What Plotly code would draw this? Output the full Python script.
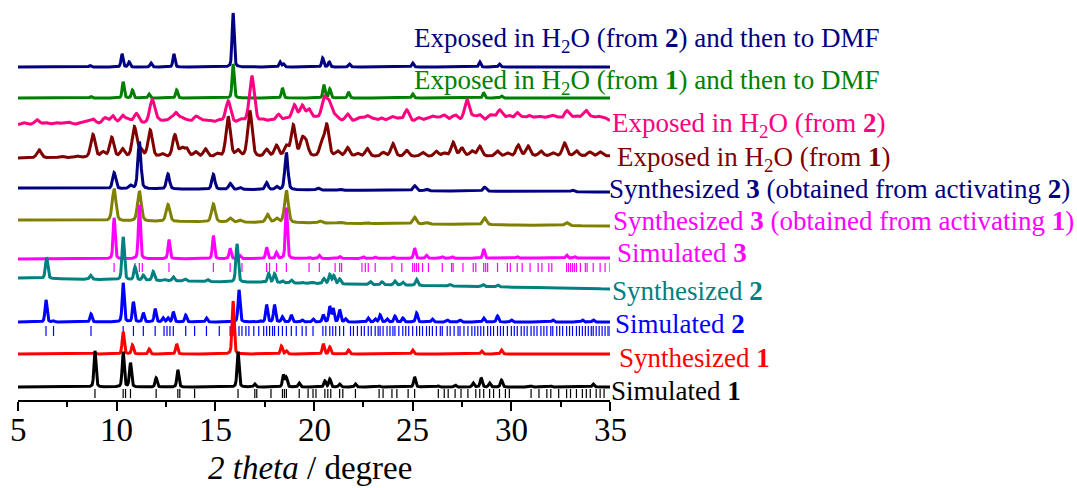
import numpy as np
import plotly.graph_objects as go

# 2-theta grid (degrees)
two_theta = np.linspace(5, 35, 3001)

# ---- peak tables: (2theta, relative intensity) ----
exp_h2o_2_dmf = [(8.65, 1.5), (10.27, 13), (10.63, 5), (11.74, 4), (12.9, 13), (15.9, 54),
                 (18.28, 5), (18.45, 3), (20.44, 9), (20.77, 5), (21.8, 3), (25.0, 4),
                 (28.4, 5), (29.4, 3)]
exp_h2o_1_dmf = [(8.7, 1.5), (10.33, 16), (10.8, 8), (11.64, 4), (13.04, 8), (15.9, 34),
                 (18.4, 10), (20.5, 13), (20.8, 9), (21.75, 6), (25.0, 4), (28.6, 5), (29.5, 2)]
exp_h2o_2 = [(5.3, 2), (5.96, 5), (6.4, 2), (6.9, 2), (7.3, 1.5), (7.6, 2), (8.2, 1.5),
             (8.5, 2), (8.8, 5), (9.4, 6), (9.8, 8), (10.3, 8), (10.6, 4), (11.0, 10),
             (11.8, 24), (12.1, 3), (12.4, 2), (12.7, 4), (13.0, 10), (13.3, 5), (13.6, 3),
             (14.0, 6), (14.2, 3), (14.5, 3), (14.8, 2), (15.2, 3), (15.65, 22), (16.3, 3),
             (16.85, 47), (17.4, 3), (17.8, 3), (18.2, 8), (18.6, 4), (19.0, 17), (19.4, 16),
             (19.75, 12), (20.1, 4), (20.5, 22), (20.75, 18), (21.0, 5), (21.2, 3), (21.7, 8),
             (22.2, 3), (22.4, 3), (22.7, 6), (23.0, 3), (23.4, 4), (23.8, 3), (24.0, 4),
             (24.3, 3), (24.7, 12), (25.3, 4), (25.7, 3), (26.0, 5), (26.3, 4), (26.6, 6),
             (27.0, 3), (27.2, 5), (27.75, 22), (28.1, 4), (28.4, 6), (28.9, 5), (29.1, 3),
             (29.4, 10), (29.6, 3), (29.9, 5), (30.3, 8), (30.6, 3), (30.9, 5), (31.2, 3),
             (31.5, 4), (31.8, 3), (32.1, 5), (32.4, 3), (32.8, 9), (33.0, 3), (33.3, 4),
             (33.6, 3), (33.8, 9), (34.1, 3), (34.4, 4), (34.7, 3)]
exp_h2o_1 = [(6.07, 8), (7.2, 1.5), (8.0, 1.5), (8.8, 23), (9.3, 5), (9.75, 20), (10.3, 8),
             (10.9, 30), (11.2, 8), (11.7, 27), (12.3, 3), (12.95, 22), (13.3, 8), (13.55, 8),
             (14.0, 5), (14.5, 8), (15.1, 3), (15.65, 40), (16.15, 6), (16.75, 46), (17.6, 7),
             (18.1, 11), (18.6, 10), (18.95, 31), (19.4, 16), (19.6, 13), (20.4, 13),
             (20.65, 31), (21.2, 5), (21.7, 9), (22.2, 3), (22.7, 8), (23.5, 4), (24.0, 13),
             (24.7, 6), (25.5, 4), (26.2, 5), (26.6, 3), (27.05, 14), (27.5, 8), (28.0, 5),
             (28.4, 10), (29.3, 5), (29.8, 3), (30.35, 11), (30.85, 10), (31.5, 5), (32.1, 3),
             (32.7, 13), (33.3, 5), (33.97, 4), (34.5, 4)]
synth3_from2 = [(9.87, 16), (10.7, 3), (11.15, 47), (12.6, 15), (14.9, 15), (15.75, 6),
                (16.25, 2), (17.6, 7), (18.1, 3), (18.6, 37), (20.2, 2), (21.3, 1), (25.1, 5),
                (25.7, 1.5), (28.65, 4), (33.1, 1.5)]
synth3_from1 = [(9.87, 32), (11.15, 30), (12.6, 17), (14.9, 18), (15.75, 4), (16.25, 2),
                (17.65, 8), (18.1, 4), (18.6, 32), (20.3, 2), (21.3, 1), (22.7, 1), (25.1, 7),
                (25.7, 1.5), (28.65, 7), (32.8, 3)]
sim3 = [(9.87, 41), (11.15, 54), (12.65, 19), (14.9, 23), (15.75, 10), (16.25, 3), (17.6, 11),
        (18.1, 6), (18.6, 51), (19.75, 1), (20.27, 3), (21.3, 2), (22.5, 1.5), (23.1, 1.5),
        (24.0, 1.5), (25.1, 10), (25.7, 3), (26.5, 1.5), (27.0, 1.5), (28.6, 9), (30.3, 1.5),
        (32.8, 3), (33.2, 1.5)]
synth2 = [(6.45, 21), (8.68, 4), (10.33, 43), (10.93, 13), (11.35, 5), (11.85, 9), (12.45, 1),
          (12.87, 4), (13.47, 2), (14.6, 2), (16.1, 38), (17.4, 1), (17.7, 9), (18.0, 9),
          (18.4, 2), (18.85, 3), (19.4, 1), (19.95, 1), (20.5, 5), (20.8, 9), (21.0, 8),
          (21.3, 5), (22.85, 3), (23.45, 3), (24.1, 4), (24.5, 3), (25.2, 6), (26.9, 1.5),
          (28.57, 2), (29.3, 2)]
sim2 = [(6.42, 22), (6.8, 1), (8.7, 8), (10.33, 39), (10.85, 20), (11.35, 9), (11.95, 13),
        (12.35, 4), (12.6, 4), (12.87, 10), (13.5, 7), (14.55, 4), (16.2, 32), (17.27, 1),
        (17.6, 17), (18.0, 17), (18.4, 5), (18.85, 7), (19.4, 2), (19.95, 3), (20.47, 7),
        (20.8, 15), (20.97, 13), (21.3, 12), (21.6, 3), (22.75, 4), (23.1, 3), (23.35, 7),
        (23.7, 3), (24.1, 6), (24.5, 4), (25.2, 9), (26.0, 3), (26.75, 2), (27.4, 2),
        (28.6, 4), (29.3, 6), (30.0, 2), (32.1, 2), (33.6, 2), (34.15, 2)]
synth1 = [(8.9, 1), (10.33, 22), (10.8, 9), (11.65, 5), (13.04, 10), (15.9, 53), (18.35, 8),
          (18.6, 3), (20.47, 10), (20.8, 7), (21.75, 4), (25.0, 4), (28.5, 3), (29.5, 4)]
sim1 = [(8.9, 36), (10.33, 35), (10.7, 24), (12.0, 9), (13.1, 17), (16.15, 35), (17.0, 3),
        (18.45, 12), (18.6, 9), (19.25, 4), (20.55, 6), (20.8, 8), (21.3, 3), (22.1, 3),
        (23.3, 1), (25.1, 10), (26.3, 1), (27.15, 2), (28.07, 4), (28.47, 9), (28.9, 4),
        (29.5, 7), (31.0, 1), (32.0, 1), (34.15, 3)]

# ---- calculated reflection positions (tick marks) ----
refl3 = [9.87, 10.93, 11.15, 11.3, 12.65, 14.9, 15.75, 16.35, 17.6, 17.75, 18.1, 18.6, 19.75,
         20.27, 21.07, 21.3, 21.4, 22.43, 22.6, 22.75, 23.1, 23.95, 24.45, 25.0, 25.1, 25.2,
         25.3, 25.5, 25.8, 26.5, 26.97, 27.05, 27.55, 28.07, 28.2, 28.6, 28.7, 28.8, 29.3,
         29.8, 29.95, 30.3, 30.55, 30.95, 31.36, 31.55, 31.9, 32.05, 32.8, 32.9, 33.0, 33.1,
         33.2, 33.3, 33.5, 33.75, 33.84, 34.15, 34.5, 34.75, 35.0]
refl2 = [6.42, 6.8, 8.7, 10.33, 10.85, 11.35, 11.95, 12.4, 12.55, 12.7, 12.87, 13.5, 13.95,
         14.55, 15.2, 15.75, 15.9, 16.2, 16.35, 16.55, 16.7, 16.95, 17.2, 17.45, 17.6, 17.75,
         17.9, 18.0, 18.2, 18.4, 18.6, 18.85, 19.1, 19.4, 19.6, 19.95, 20.45, 20.6, 20.8,
         20.95, 21.1, 21.3, 21.5, 21.85, 22.0, 22.2, 22.4, 22.55, 22.75, 22.9, 23.1, 23.25,
         23.35, 23.5, 23.7, 23.85, 24.0, 24.1, 24.3, 24.5, 24.65, 24.8, 25.0, 25.2, 25.35,
         25.5, 25.7, 25.85, 26.0, 26.2, 26.4, 26.5, 26.75, 26.9, 27.1, 27.3, 27.4, 27.6,
         27.8, 28.0, 28.15, 28.3, 28.45, 28.6, 28.8, 28.95, 29.1, 29.3, 29.45, 29.6, 29.8,
         30.0, 30.15, 30.3, 30.5, 30.65, 30.8, 31.0, 31.15, 31.3, 31.5, 31.65, 31.8, 32.0,
         32.1, 32.3, 32.45, 32.6, 32.8, 32.95, 33.1, 33.3, 33.45, 33.6, 33.75, 33.9, 34.05,
         34.15, 34.3, 34.45, 34.6, 34.75, 34.9, 35.0]
refl1 = [8.9, 10.33, 10.45, 10.7, 12.0, 13.1, 13.2, 13.95, 16.15, 17.0, 17.1, 17.82, 18.4,
         18.5, 18.6, 19.25, 19.7, 19.95, 20.1, 20.55, 20.7, 20.85, 21.3, 21.46, 22.1, 23.3,
         23.5, 23.95, 24.2, 24.77, 25.1, 26.3, 26.6, 26.8, 27.15, 27.45, 27.8, 28.2, 28.4,
         28.6, 28.9, 29.1, 29.4, 29.7, 29.9, 31.0, 31.4, 31.8, 32.0, 32.4, 32.8, 33.0, 33.3,
         33.6, 33.8, 34.0, 34.3, 34.5, 34.7]

# x tick labels
tick_values = [5, 10, 15, 20, 25, 30, 35]

# pattern names as printed beside each curve
names = [
    "Exposed in H<sub>2</sub>O (from <b>2</b>) and then to DMF",
    "Exposed in H<sub>2</sub>O (from <b>1</b>) and then to DMF",
    "Exposed in H<sub>2</sub>O (from <b>2</b>)",
    "Exposed in H<sub>2</sub>O (from <b>1</b>)",
    "Synthesized <b>3</b> (obtained from activating <b>2</b>)",
    "Synthesized <b>3</b> (obtained from activating <b>1</b>)",
    "Simulated <b>3</b>",
    "Synthesized <b>2</b>",
    "Simulated <b>2</b>",
    "Synthesized <b>1</b>",
    "Simulated <b>1</b>",
]
patterns = [exp_h2o_2_dmf, exp_h2o_1_dmf, exp_h2o_2, exp_h2o_1, synth3_from2, synth3_from1,
            sim3, synth2, sim2, synth1, sim1]

# ---- styling / stacking ----
line_colors = ["#000080", "#008000", "#FF0080", "#800000", "#000080", "#808000",
               "#FF00FF", "#008080", "#0000FF", "#FF0000", "#000000"]
label_colors = ["#000080", "#008000", "#FF0080", "#800000", "#000080", "#FF00FF",
                "#FF00FF", "#008080", "#0000FF", "#FF0000", "#000000"]
base_left = [333, 302, 275, 242, 212, 180, 141, 122, 78, 46, 13]
base_right = [333, 302, 279, 244, 208, 174, 142, 111, 78, 46, 13]
half_width = [0.06, 0.06, 0.15, 0.13, 0.09, 0.11, 0.06, 0.07, 0.06, 0.06, 0.06]

PLOT_W, PLOT_H = 592, 400          # plot area in pixels
label_px = [412, 412, 610, 615, 607, 611, 615, 610, 613, 617, 609]
label_py = [40, 82, 125, 159, 189, 221, 253, 291, 324, 358, 391]

tick_sets = {6: (refl3, 128, 137), 8: (refl2, 64, 74), 10: (refl1, 2, 11)}


def pseudo_voigt(x, peaks, hw, eta=0.35):
    y = np.zeros_like(x)
    for x0, h in peaks:
        u = (x - x0) / hw
        y += h * (eta / (1 + u * u) + (1 - eta) * np.exp(-np.log(2) * u * u))
    return y


fig = go.Figure()
for i, peaks in enumerate(patterns):
    base = base_left[i] + (base_right[i] - base_left[i]) * (two_theta - 5) / 30
    fig.add_trace(go.Scatter(
        x=two_theta, y=base + pseudo_voigt(two_theta, peaks, half_width[i]),
        mode="lines", line=dict(color=line_colors[i], width=3),
        hoverinfo="skip", showlegend=False))
    if i in tick_sets:
        pos, y0, y1 = tick_sets[i]
        tx, ty = [], []
        for p in pos:
            tx += [p, p, None]
            ty += [y0, y1, None]
        fig.add_trace(go.Scatter(x=tx, y=ty, mode="lines",
                                 line=dict(color=line_colors[i], width=1.2),
                                 hoverinfo="skip", showlegend=False))

serif = "Liberation Serif"
for i, name in enumerate(names):
    fig.add_annotation(x=(label_px[i] - 18) / PLOT_W, y=(PLOT_H - label_py[i]) / PLOT_H,
                       xref="paper", yref="paper", text=name,
                       showarrow=False, xanchor="left", yanchor="middle",
                       font=dict(family=serif, size=27, color=label_colors[i]))

# tick labels and axis title
for v in tick_values:
    fig.add_annotation(x=(v - 5) / 30, y=(PLOT_H - 430) / PLOT_H, xref="paper", yref="paper",
                       text=str(v), showarrow=False, xanchor="center", yanchor="middle",
                       font=dict(family=serif, size=33, color="black"))
fig.add_annotation(x=(310 - 18) / PLOT_W, y=(PLOT_H - 468) / PLOT_H, xref="paper", yref="paper",
                   text="<i>2 theta</i> / degree", showarrow=False,
                   xanchor="center", yanchor="middle",
                   font=dict(family=serif, size=33, color="black"))

fig.update_layout(
    width=1077, height=488,
    margin=dict(l=18, r=467, t=0, b=88),
    paper_bgcolor="white", plot_bgcolor="white",
    font=dict(family=serif, color="black"),
    xaxis=dict(range=[5, 35], tickvals=tick_values, showticklabels=False,
               ticks="outside", ticklen=9, tickwidth=1.5, tickcolor="black",
               minor=dict(dtick=2.5, ticks="outside", ticklen=5, tickwidth=1.5, tickcolor="black"),
               showline=True, linecolor="black", linewidth=1.5, showgrid=False, zeroline=False),
    yaxis=dict(range=[0, 400], visible=False),
)

fig.write_html("out.html")
